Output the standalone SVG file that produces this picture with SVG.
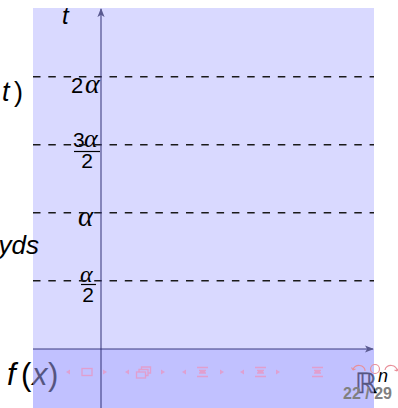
<svg xmlns="http://www.w3.org/2000/svg" width="398" height="408" viewBox="0 0 398 408">
<style>
.sans{font-family:"Liberation Sans","DejaVu Sans",sans-serif;fill:#000}
.it{font-style:italic}
.gr{font-family:"Liberation Serif","DejaVu Serif",serif;font-style:italic;fill:#000}
.dash{stroke:#1a1a1a;stroke-width:1.4;stroke-dasharray:7.5 7.8;fill:none}
.bar{stroke:#000;stroke-width:1.2}
.axis{stroke:#2a2a70;stroke-opacity:0.6;stroke-width:1.6;fill:none}
.nav{fill:#e49bc9;fill-opacity:0.85}
.navs{stroke:#e49bc9;stroke-opacity:0.9;fill:none;stroke-width:1.3}
.navr{stroke:#e8909a;fill:none;stroke-width:1.2}
</style>
<defs>
<marker id="ah" viewBox="0 0 10 10" refX="9" refY="5" markerWidth="9" markerHeight="9" orient="auto" markerUnits="userSpaceOnUse">
<path d="M0,1 L10,5 L0,9 L2.5,5 z" fill="#5a5a90"/>
</marker>
</defs>
<rect width="398" height="408" fill="#ffffff"/>
<rect id="plot-bg" x="33" y="8" width="341" height="400" fill="#d9d9ff"/>

<g id="side-labels">
<text class="sans it" x="62" y="24" font-size="24">t</text>
<text class="sans" x="2" y="101" font-size="27"><tspan class="it">t</tspan><tspan x="14">)</tspan></text>
<text class="sans it" x="39" y="254" font-size="26" text-anchor="end">yds</text>
<text class="sans" x="7" y="385" font-size="31"><tspan class="it">f</tspan><tspan x="21">(</tspan><tspan x="32" class="it">x</tspan><tspan x="48">)</tspan></text>
</g>

<g id="level-labels">
<g id="lbl-2a">
<text class="sans" x="71" y="93" font-size="22">2</text>
<text class="gr" x="85" y="93" font-size="28">α</text>
</g>
<g id="lbl-3a2">
<text class="sans" x="73" y="147" font-size="21">3</text>
<text class="gr" x="84" y="147" font-size="26">α</text>
<line class="bar" x1="74" y1="151.5" x2="100" y2="151.5"/>
<text class="sans" x="87" y="168" font-size="21" text-anchor="middle">2</text>
</g>
<g id="lbl-a">
<text class="gr" x="78" y="226" font-size="29">α</text>
</g>
<g id="lbl-a2">
<text class="gr" x="80" y="282" font-size="24">α</text>
<line class="bar" x1="81" y1="284.5" x2="96" y2="284.5"/>
<text class="sans" x="88" y="302" font-size="21" text-anchor="middle">2</text>
</g>
</g>

<g id="space-label">
<text font-family="DejaVu Sans, sans-serif" x="355" y="393" font-size="28" fill="#000" stroke="#000" stroke-width="0.4">ℝ</text>
</g>

<g id="levels">
<line class="dash" x1="33" y1="76.7" x2="374" y2="76.7"/>
<line class="dash" x1="33" y1="144.7" x2="374" y2="144.7"/>
<line class="dash" x1="33" y1="212.7" x2="374" y2="212.7"/>
<line class="dash" x1="33" y1="280.7" x2="374" y2="280.7"/>
</g>

<rect id="band" x="33" y="349" width="341" height="59" fill="#aaaaff" fill-opacity="0.5"/>

<g id="connectors">
<line class="axis" x1="101" y1="408" x2="101" y2="9" marker-end="url(#ah)"/>
<line class="axis" x1="33" y1="349" x2="373" y2="349" marker-end="url(#ah)"/>
</g>

<text class="sans it" x="378" y="382" font-size="18">n</text>

<g id="nav">
<path class="nav" d="M66,372 L70,369.5 L70,374.5 z"/>
<rect class="navs" x="82" y="368.5" width="10" height="7"/>
<path class="nav" d="M103,369.5 L107,372 L103,374.5 z"/>
<path class="nav" d="M125,372 L129,369.5 L129,374.5 z"/>
<rect class="navs" x="136.5" y="372" width="9" height="6"/>
<path class="navs" d="M139,372 V369.5 H148 V375.5 H145.5 M141.5,369.5 V367 H150.5 V373 H148"/>
<path class="nav" d="M161,369.5 L165,372 L161,374.5 z"/>
<path class="nav" d="M182,372 L186,369.5 L186,374.5 z"/>
<path class="navs" d="M197,367.5 H208 M199,370.5 H206 M199,373 H206 M197,376.5 H208 M200,371.8 H205"/>
<path class="nav" d="M220,369.5 L224,372 L220,374.5 z"/>
<path class="nav" d="M240,372 L244,369.5 L244,374.5 z"/>
<path class="navs" d="M255,367.5 H266 M257,370.5 H264 M257,373 H264 M255,376.5 H266 M258,371.8 H263"/>
<path class="nav" d="M276,369.5 L280,372 L276,374.5 z"/>
<path class="navs" d="M312,367.5 H323 M314,370.5 H321 M314,373 H321 M312,376.5 H323 M315,371.8 H320"/>
<path class="navr" d="M353,370 A6,5 0 1 1 365,371 M353,370 l-1.5,-2.5 M353,370 l2.5,-1"/>
<circle class="navr" cx="375" cy="369" r="4.5"/>
<path class="navr" d="M397,371 A6,5 0 1 0 385,370 M397,371 l1.5,-2.5 M397,371 l-2.5,-1"/>
</g>

<text id="page" font-family="Liberation Sans, Arial, sans-serif" font-weight="bold" x="343" y="399" font-size="16" fill="#808080">22 / 29</text>
</svg>
